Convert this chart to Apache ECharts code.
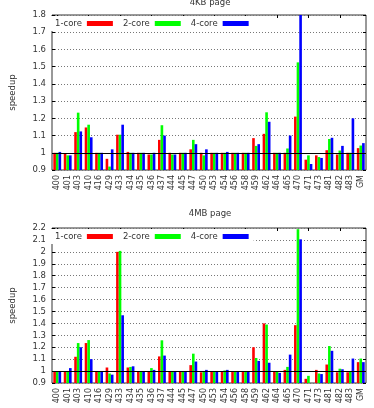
<!DOCTYPE html>
<html>
<head>
<meta charset='utf-8'>
<title>speedup</title>
<script src='https://cdn.jsdelivr.net/npm/echarts@6/dist/echarts.min.js'></script>
<style>
  html, body { margin: 0; padding: 0; background: #fff; }
</style>
</head>
<body>
<div id='main' style='width:374px;height:408px;'></div>
<script type='text/javascript'>
var categories = ['400', '401', '403', '410', '416', '429', '433', '434', '435', '436',
    '437', '444', '445', '447', '450', '453', '454', '456', '458', '459',
    '462', '464', '465', '470', '471', '473', '481', '482', '483', 'GM'];

// 4KB page
var kb1core = [1.0, 0.995, 1.12, 1.147, 1.0, 0.965, 1.105, 1.005, 1.0, 0.99,
    1.075, 1.0, 1.0, 1.02, 1.0, 1.0, 1.0, 1.0, 1.0, 1.085,
    1.11, 1.0, 1.0, 1.21, 0.96, 0.985, 1.015, 0.99, 1.0, 1.027];
var kb2core = [1.0, 0.985, 1.233, 1.163, 1.0, 0.92, 1.105, 1.0, 1.0, 0.99,
    1.16, 0.99, 1.0, 1.075, 0.985, 1.0, 1.0, 1.0, 1.0, 1.04,
    1.235, 1.0, 1.025, 1.525, 0.985, 0.975, 1.08, 1.013, 1.0, 1.042];
var kb4core = [1.005, 0.985, 1.124, 1.09, 1.0, 1.02, 1.163, 1.0, 1.0, 1.0,
    1.1, 0.99, 1.0, 1.05, 1.02, 1.0, 1.005, 1.0, 1.0, 1.05,
    1.18, 1.0, 1.1, 1.8, 0.935, 0.97, 1.087, 1.04, 1.2, 1.056];

// 4MB page
var mb1core = [1.0, 1.0, 1.12, 1.235, 1.0, 1.03, 2.0, 1.03, 1.0, 1.0,
    1.123, 1.0, 1.0, 1.05, 0.99, 1.0, 1.0, 1.0, 1.0, 1.2,
    1.4, 1.0, 1.01, 1.385, 0.935, 1.01, 1.055, 0.99, 0.99, 1.075];
var mb2core = [1.0, 1.0, 1.235, 1.26, 1.0, 0.98, 2.008, 1.035, 1.0, 1.025,
    1.258, 1.0, 0.995, 1.146, 1.0, 1.0, 1.005, 1.0, 1.0, 1.11,
    1.39, 1.0, 1.035, 2.19, 0.96, 0.98, 1.21, 1.02, 1.0, 1.105];
var mb4core = [0.995, 1.025, 1.2, 1.1, 1.0, 0.97, 1.468, 1.04, 1.0, 1.01,
    1.13, 1.0, 1.0, 1.08, 1.01, 1.0, 1.01, 1.0, 1.0, 1.085,
    1.07, 0.985, 1.138, 2.105, 0.9, 0.975, 1.17, 1.015, 1.105, 1.075];

var seriesNames = ['1-core', '2-core', '4-core'];
var colors = ['#ff0000', '#00ff00', '#0000ff'];
var font = 'DejaVu Sans';
var fs = 8.5;

function valueAxis(grid, min, max, right) {
    return {
        type: 'value', gridIndex: grid, min: min, max: max, interval: 0.1,
        position: right ? 'right' : 'left',
        name: right ? '' : 'speedup',
        nameLocation: 'middle', nameGap: 35,
        nameTextStyle: { fontFamily: font, fontSize: fs, color: '#333' },
        axisLine: { show: false },
        axisTick: { show: true, inside: true, length: 3, lineStyle: { color: '#000' } },
        axisLabel: {
            show: !right, fontFamily: font, fontSize: fs, color: '#333', margin: 6,
            formatter: function (v) { return String(Math.round(v * 10) / 10); }
        },
        splitLine: right ? { show: false } : { show: true, lineStyle: { color: '#777', type: [1, 2], width: 1 } }
    };
}

function catAxis(grid, top) {
    return {
        type: 'category', gridIndex: grid, data: categories,
        position: top ? 'top' : 'bottom',
        axisLine: { show: false },
        axisTick: { show: true, inside: true, length: 3, alignWithLabel: true, lineStyle: { color: '#000' } },
        axisLabel: top ? { show: false } : {
            show: true, interval: 0, rotate: 90, fontFamily: font, fontSize: 8, color: '#333', margin: 5
        },
        splitLine: { show: false }
    };
}

function barSeries(name, data, axisIdx, color, mark) {
    var s = {
        name: name, type: 'bar', data: data,
        xAxisIndex: axisIdx, yAxisIndex: axisIdx,
        barGap: '0%', barCategoryGap: '25%',
        itemStyle: { color: color },
        animation: false
    };
    if (mark) {
        s.markLine = {
            silent: true, symbol: 'none', label: { show: false },
            lineStyle: { color: '#000', type: 'solid', width: 1 },
            data: [{ yAxis: 1.0 }]
        };
    }
    return s;
}

function legendAt(top) {
    return {
        data: seriesNames, left: 45, top: top, orient: 'horizontal', align: 'right',
        itemWidth: 26, itemHeight: 5, itemGap: 10, icon: 'rect',
        padding: [3, 5, 3, 10], backgroundColor: '#fff',
        textStyle: { fontFamily: font, fontSize: fs, color: '#333' },
        selectedMode: false
    };
}

var myChart = echarts.init(document.getElementById('main'));

var option = {
    animation: false,
    color: colors,
    title: [
        { text: '4KB page', left: 205, top: -7, textAlign: 'center',
          textStyle: { fontFamily: font, fontSize: fs, fontWeight: 'normal', color: '#333' } },
        { text: '4MB page', left: 205, top: 204, textAlign: 'center',
          textStyle: { fontFamily: font, fontSize: fs, fontWeight: 'normal', color: '#333' } }
    ],
    legend: [legendAt(16), legendAt(229)],
    grid: [
        { left: 44, top: 15, width: 322, height: 155, show: true, borderColor: '#333', borderWidth: 1, backgroundColor: 'transparent' },
        { left: 44, top: 228, width: 322, height: 155, show: true, borderColor: '#333', borderWidth: 1, backgroundColor: 'transparent' }
    ],
    xAxis: [catAxis(0, false), catAxis(1, false), catAxis(0, true), catAxis(1, true)],
    yAxis: [valueAxis(0, 0.9, 1.8, false), valueAxis(1, 0.9, 2.2, false),
            valueAxis(0, 0.9, 1.8, true), valueAxis(1, 0.9, 2.2, true)],
    series: [
        barSeries('1-core', kb1core, 0, colors[0], true),
        barSeries('2-core', kb2core, 0, colors[1], false),
        barSeries('4-core', kb4core, 0, colors[2], false),
        barSeries('1-core', mb1core, 1, colors[0], true),
        barSeries('2-core', mb2core, 1, colors[1], false),
        barSeries('4-core', mb4core, 1, colors[2], false)
    ]
};

myChart.setOption(option);
</script>
</body>
</html>
